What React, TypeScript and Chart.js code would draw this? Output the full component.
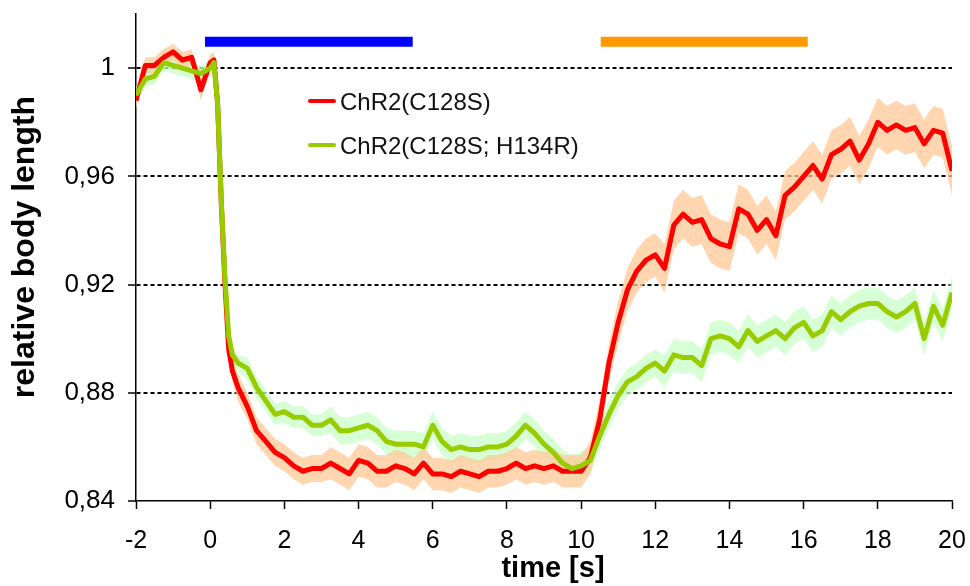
import React, { useEffect, useRef } from 'react';
import { Chart, registerables } from 'chart.js';

Chart.register(...registerables);

const FONT = '"Liberation Sans", Arial, Helvetica, sans-serif';

// time axis (s)
const times = [
  -2, -1.75, -1.5, -1.25, -1, -0.75, -0.5, -0.25, 0,
  0.1, 0.2, 0.3, 0.4, 0.5, 0.6, 0.75,
  1, 1.25, 1.5, 1.75, 2, 2.25, 2.5, 2.75, 3,
  3.25, 3.5, 3.75, 4, 4.25, 4.5, 4.75, 5, 5.25, 5.5, 5.75, 6,
  6.25, 6.5, 6.75, 7, 7.25, 7.5, 7.75, 8, 8.25, 8.5, 8.75, 9,
  9.25, 9.5, 9.75, 10,
  10.25, 10.5, 10.75, 11, 11.25, 11.5, 11.75, 12,
  12.25, 12.5, 12.75, 13, 13.25, 13.5, 13.75, 14, 14.25, 14.5, 14.75, 15,
  15.25, 15.5, 15.75, 16, 16.25, 16.5, 16.75, 17, 17.25, 17.5, 17.75, 18,
  18.25, 18.5, 18.75, 19, 19.25, 19.5, 19.75, 20,
];

// ChR2(C128S) mean relative body length
const c128s = [
  0.988, 1.001, 1.001, 1.004, 1.006, 1.003, 1.004, 0.992, 1.002,
  1.003, 0.987, 0.950, 0.920, 0.896, 0.888, 0.882,
  0.875, 0.866, 0.862, 0.858, 0.856, 0.853, 0.851, 0.852, 0.852,
  0.854, 0.852, 0.850, 0.855, 0.854, 0.851, 0.851, 0.853, 0.852, 0.850, 0.854, 0.850,
  0.850, 0.849, 0.851, 0.850, 0.849, 0.851, 0.851, 0.852, 0.854, 0.852, 0.853, 0.852,
  0.853, 0.851, 0.851, 0.851,
  0.856, 0.870, 0.891, 0.906, 0.918, 0.925, 0.929, 0.931,
  0.926, 0.942, 0.946, 0.943, 0.944, 0.937, 0.935, 0.934, 0.948, 0.946, 0.940, 0.944,
  0.938, 0.953, 0.956, 0.960, 0.964, 0.959, 0.968, 0.970, 0.973, 0.966, 0.972, 0.980,
  0.977, 0.979, 0.977, 0.978, 0.972, 0.977, 0.976, 0.962,
];

// ChR2(C128S; H134R) mean relative body length
const c128sH134r = [
  0.990, 0.996, 0.997, 1.002, 1.001, 1.000, 0.999, 0.998, 1.000,
  1.002, 0.987, 0.951, 0.922, 0.901, 0.894, 0.891,
  0.889, 0.882, 0.877, 0.872, 0.873, 0.871, 0.871, 0.868, 0.868,
  0.870, 0.866, 0.866, 0.867, 0.868, 0.866, 0.862, 0.861, 0.861, 0.861, 0.860, 0.868,
  0.862, 0.859, 0.860, 0.859, 0.859, 0.860, 0.860, 0.861, 0.864, 0.868, 0.865, 0.861,
  0.858, 0.854, 0.852, 0.853,
  0.855, 0.864, 0.872, 0.879, 0.884, 0.886, 0.889, 0.891,
  0.888, 0.894, 0.893, 0.893, 0.890, 0.900, 0.901, 0.900, 0.897, 0.903, 0.899, 0.901,
  0.903, 0.900, 0.904, 0.906, 0.901, 0.903, 0.910, 0.907, 0.910, 0.912, 0.913, 0.913,
  0.910, 0.908, 0.910, 0.913, 0.900, 0.912, 0.905, 0.917,
];

// error (SEM) of each trace
const c128sErr = [
  0.003, 0.003, 0.003, 0.003, 0.003, 0.003, 0.003, 0.004, 0.003,
  0.003, 0.003, 0.003, 0.003, 0.004, 0.004, 0.005,
  0.005, 0.005, 0.005, 0.005, 0.005, 0.005, 0.005, 0.005, 0.005,
  0.006, 0.006, 0.006, 0.006, 0.006, 0.006, 0.006, 0.006, 0.006, 0.006, 0.006, 0.006,
  0.006, 0.006, 0.006, 0.006, 0.006, 0.006, 0.006, 0.006, 0.006, 0.006, 0.006, 0.006,
  0.006, 0.006, 0.006, 0.006,
  0.006, 0.007, 0.007, 0.008, 0.008, 0.008, 0.008, 0.008,
  0.009, 0.009, 0.009, 0.009, 0.009, 0.009, 0.009, 0.009, 0.009, 0.009, 0.009, 0.009,
  0.009, 0.009, 0.009, 0.009, 0.009, 0.009, 0.009, 0.009, 0.009, 0.009, 0.009, 0.009,
  0.009, 0.009, 0.009, 0.009, 0.009, 0.009, 0.009, 0.009,
];

const c128sH134rErr = [
  0.003, 0.003, 0.003, 0.003, 0.003, 0.003, 0.003, 0.003, 0.003,
  0.003, 0.003, 0.003, 0.003, 0.003, 0.003, 0.003,
  0.004, 0.004, 0.004, 0.004, 0.004, 0.004, 0.004, 0.004, 0.004,
  0.005, 0.005, 0.005, 0.005, 0.005, 0.005, 0.005, 0.005, 0.005, 0.005, 0.005, 0.005,
  0.005, 0.005, 0.005, 0.005, 0.005, 0.005, 0.005, 0.005, 0.005, 0.005, 0.005, 0.005,
  0.005, 0.005, 0.005, 0.005,
  0.005, 0.005, 0.005, 0.005, 0.005, 0.005, 0.005, 0.005,
  0.006, 0.006, 0.006, 0.006, 0.006, 0.006, 0.006, 0.006, 0.006, 0.006, 0.006, 0.006,
  0.006, 0.006, 0.006, 0.006, 0.006, 0.006, 0.006, 0.006, 0.006, 0.006, 0.006, 0.006,
  0.006, 0.006, 0.006, 0.006, 0.006, 0.006, 0.006, 0.006,
];

// light stimulation periods (s) and the level they are drawn at
const blueStim = [-0.14, 5.46];
const orangeStim = [10.53, 16.11];
const stimLevel = [1.0097, 1.0097];

const xTicks = [-2, 0, 2, 4, 6, 8, 10, 12, 14, 16, 18, 20];
const yTicks = [0.84, 0.88, 0.92, 0.96, 1];
const yTickLabels = ['0,84', '0,88', '0,92', '0,96', '1'];

const seriesNames = ['ChR2(C128S)', 'ChR2(C128S; H134R)'];
const xTitle = 'time [s]';
const yTitle = 'relative body length';

const RED = '#FF0000';
const GREEN = '#99CC00';
const RED_BAND = 'rgba(255, 200, 150, 0.75)';
const GREEN_BAND = 'rgba(200, 255, 200, 0.75)';

const pts = (vals: number[], err?: number[], sign = 0) =>
  times.map((t, i) => ({ x: t, y: vals[i] + (err ? sign * err[i] : 0) }));

const overlayPlugin = {
  id: 'overlay',
  afterDraw(chart: any) {
    const ctx = chart.ctx as CanvasRenderingContext2D;
    ctx.save();
    // legend
    const items = [
      { color: RED, ly: 101, ty: 103, label: seriesNames[0] },
      { color: GREEN, ly: 145, ty: 147.5, label: seriesNames[1] },
    ];
    items.forEach((it) => {
      ctx.strokeStyle = it.color;
      ctx.lineWidth = 4;
      ctx.lineCap = 'round';
      ctx.beginPath();
      ctx.moveTo(310, it.ly);
      ctx.lineTo(334, it.ly);
      ctx.stroke();
      ctx.fillStyle = '#111';
      ctx.font = `24px ${FONT}`;
      ctx.textAlign = 'left';
      ctx.textBaseline = 'middle';
      ctx.fillText(it.label, 340, it.ty);
    });
    // axis titles
    ctx.fillStyle = '#000';
    ctx.font = `bold 29px ${FONT}`;
    ctx.textAlign = 'center';
    ctx.textBaseline = 'middle';
    ctx.fillText(xTitle, 553, 569);
    ctx.translate(25, 247);
    ctx.rotate(-Math.PI / 2);
    ctx.font = `bold 32px ${FONT}`;
    ctx.fillText(yTitle, 0, 0);
    ctx.restore();
  },
};

export default function App() {
  const ref = useRef<HTMLCanvasElement | null>(null);

  useEffect(() => {
    document.body.style.margin = '0';
    const canvas = ref.current;
    if (!canvas) return;
    const chart = new Chart(canvas, {
      type: 'line',
      data: {
        datasets: [
          {
            label: seriesNames[1],
            data: pts(c128sH134r),
            borderColor: GREEN,
            borderWidth: 5,
            pointRadius: 0,
            tension: 0,
            fill: false,
            borderJoinStyle: 'round',
            order: 0,
          },
          {
            label: seriesNames[0],
            data: pts(c128s),
            borderColor: RED,
            borderWidth: 5,
            pointRadius: 0,
            tension: 0,
            fill: false,
            borderJoinStyle: 'round',
            order: 1,
          },
          {
            label: 'c128s upper',
            data: pts(c128s, c128sErr, 1),
            borderWidth: 0,
            borderColor: 'rgba(0,0,0,0)',
            backgroundColor: RED_BAND,
            pointRadius: 0,
            fill: '+1',
            order: 2,
          },
          {
            label: 'c128s lower',
            data: pts(c128s, c128sErr, -1),
            borderWidth: 0,
            borderColor: 'rgba(0,0,0,0)',
            pointRadius: 0,
            fill: false,
            order: 3,
          },
          {
            label: 'h134r upper',
            data: pts(c128sH134r, c128sH134rErr, 1),
            borderWidth: 0,
            borderColor: 'rgba(0,0,0,0)',
            backgroundColor: GREEN_BAND,
            pointRadius: 0,
            fill: '+1',
            order: 4,
          },
          {
            label: 'h134r lower',
            data: pts(c128sH134r, c128sH134rErr, -1),
            borderWidth: 0,
            borderColor: 'rgba(0,0,0,0)',
            pointRadius: 0,
            fill: false,
            order: 5,
          },
          {
            label: 'blue light',
            data: blueStim.map((t, i) => ({ x: t, y: stimLevel[i] })),
            borderColor: '#0000FF',
            borderWidth: 10,
            borderCapStyle: 'butt',
            pointRadius: 0,
            fill: false,
            order: 6,
          },
          {
            label: 'orange light',
            data: orangeStim.map((t, i) => ({ x: t, y: stimLevel[i] })),
            borderColor: '#FF9900',
            borderWidth: 10,
            borderCapStyle: 'butt',
            pointRadius: 0,
            fill: false,
            order: 7,
          },
        ],
      },
      options: {
        animation: false,
        responsive: false,
        maintainAspectRatio: false,
        layout: { padding: { left: 0, right: 18, top: 14, bottom: 0 } },
        plugins: {
          legend: { display: false },
          tooltip: { enabled: false },
        },
        scales: {
          x: {
            type: 'linear',
            min: -2,
            max: 20,
            afterBuildTicks: (scale: any) => {
              scale.ticks = xTicks.map((v) => ({ value: v }));
            },
            afterFit: (scale: any) => {
              scale.height = 85;
              scale.paddingLeft = 0;
              scale.paddingRight = 0;
            },
            ticks: {
              color: '#000',
              font: { family: FONT, size: 25 },
              padding: 17,
              maxRotation: 0,
              autoSkip: false,
              callback: (v: any) => String(v),
            },
            grid: {
              drawOnChartArea: false,
              drawTicks: true,
              tickLength: 8,
              tickColor: '#000',
              tickWidth: 1.5,
            },
            border: { color: '#000', width: 1.5 },
          },
          y: {
            type: 'linear',
            min: 0.84,
            max: 1.02,
            afterBuildTicks: (scale: any) => {
              scale.ticks = yTicks.map((v) => ({ value: v }));
            },
            afterFit: (scale: any) => {
              scale.width = 136;
              scale.paddingTop = 0;
              scale.paddingBottom = 0;
            },
            ticks: {
              color: '#000',
              font: { family: FONT, size: 26 },
              padding: 13,
              autoSkip: false,
              callback: (v: any) => {
                const i = yTicks.findIndex((t) => Math.abs(t - v) < 1e-6);
                return i >= 0 ? yTickLabels[i] : '';
              },
            },
            grid: {
              color: (c: any) =>
                c.tick && Math.abs(c.tick.value - yTicks[0]) < 1e-6 ? 'rgba(0,0,0,0)' : '#000',
              lineWidth: 2,
              tickLength: 8,
              tickColor: '#000',
              tickWidth: 1.5,
              tickBorderDash: [],
            },
            border: { color: '#000', width: 1.5, dash: [4, 3] },
          },
        },
      },
      plugins: [overlayPlugin],
    } as any);
    return () => chart.destroy();
  }, []);

  return (
    <div style={{ width: 970, height: 586, background: '#fff' }}>
      <canvas ref={ref} width={970} height={586} style={{ display: 'block' }} />
    </div>
  );
}
